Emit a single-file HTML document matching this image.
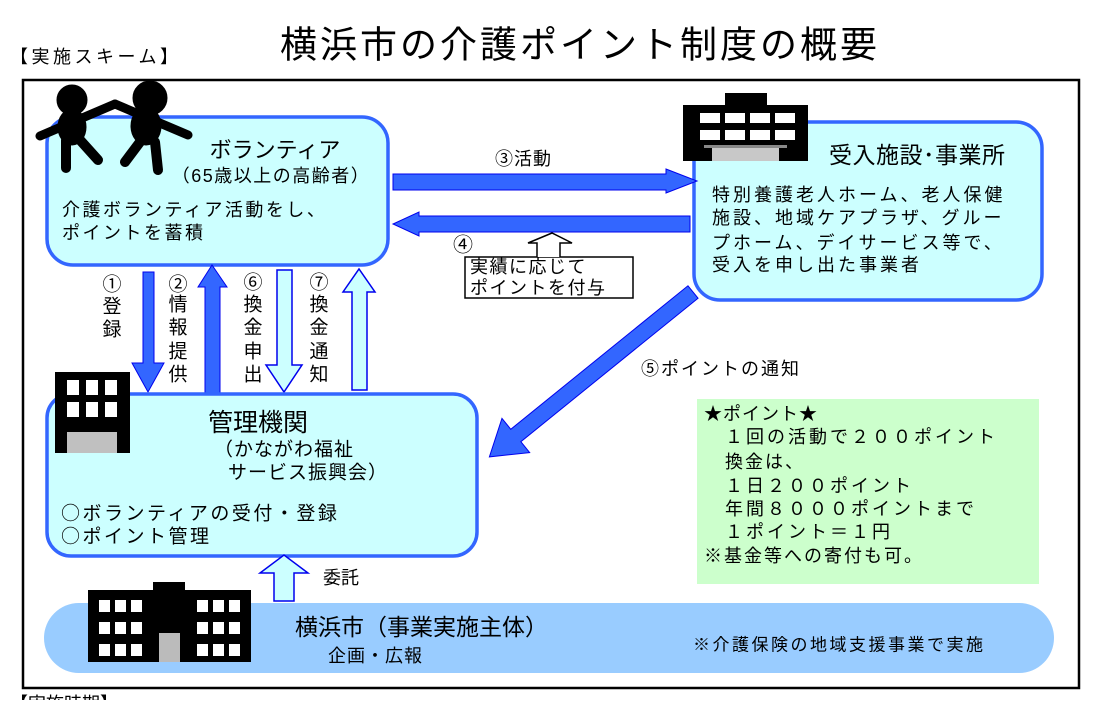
<!DOCTYPE html>
<html><head><meta charset="utf-8"><style>
html,body{margin:0;padding:0;background:#fff;}
svg text{font-family:"Liberation Sans","Noto Sans CJK JP",sans-serif;fill:#000;dominant-baseline:central;}
svg text.c{font-family:"Noto Sans CJK JP","Liberation Sans",sans-serif;}
</style></head><body>
<svg width="1095" height="700" viewBox="0 0 1095 700" xmlns="http://www.w3.org/2000/svg">
<text x="10" y="57" font-size="18" letter-spacing="3.5">【実施スキーム】</text>
<text x="580" y="45" font-size="37" text-anchor="middle" letter-spacing="3">横浜市の介護ポイント制度の概要</text>
<rect x="23" y="80" width="1056" height="608" fill="#fff" stroke="#000" stroke-width="2.5"/>
<text x="10" y="704" font-size="18">【実施時期】</text>

<!-- Volunteer box -->
<rect x="47" y="117" width="341" height="148" rx="26" fill="#ccffff" stroke="#3366ff" stroke-width="3.5"/>
<g fill="#000" stroke="#000" stroke-linecap="round">
<circle cx="72" cy="100" r="15"/>
<ellipse cx="72" cy="127" rx="14" ry="18"/>
<line x1="40" y1="136" x2="115" y2="104" stroke-width="9"/>
<line x1="66" y1="140" x2="66" y2="168" stroke-width="10"/>
<line x1="80" y1="140" x2="98" y2="160" stroke-width="10"/>
<circle cx="150" cy="98" r="17"/>
<ellipse cx="146" cy="126" rx="15" ry="19"/>
<line x1="115" y1="104" x2="188" y2="135" stroke-width="9"/>
<line x1="140" y1="142" x2="125" y2="162" stroke-width="10"/>
<line x1="155" y1="142" x2="158" y2="170" stroke-width="10"/>
</g>
<text x="275" y="150" font-size="22" text-anchor="middle">ボランティア</text>
<text x="271" y="176" font-size="18" text-anchor="middle" letter-spacing="1.5">（65歳以上の高齢者）</text>
<text x="62" y="210" font-size="18" letter-spacing="2.5">介護ボランティア活動をし、</text>
<text x="62" y="233" font-size="18" letter-spacing="2.5">ポイントを蓄積</text>

<!-- Facility box -->
<rect x="694" y="122" width="348" height="178" rx="26" fill="#ccffff" stroke="#3366ff" stroke-width="3.5"/>
<rect x="725" y="93" width="42" height="14" fill="#000"/>
<rect x="683" y="105" width="125" height="56" fill="#000"/>
<g fill="#fff">
<rect x="700" y="113" width="20" height="10"/><rect x="725" y="113" width="20" height="10"/><rect x="750" y="113" width="20" height="10"/><rect x="775" y="113" width="20" height="10"/>
<rect x="700" y="130" width="20" height="10"/><rect x="725" y="130" width="20" height="10"/><rect x="750" y="130" width="20" height="10"/><rect x="775" y="130" width="20" height="10"/>
</g>
<rect x="704" y="145" width="83" height="3" fill="#888"/>
<rect x="712" y="148" width="67" height="13" fill="#c8c8c8"/>
<text x="829" y="155" font-size="23" letter-spacing="0.5">受入施設･事業所</text>
<text x="712" y="195" font-size="18" letter-spacing="3">特別養護老人ホーム、老人保健</text>
<text x="712" y="218" font-size="18" letter-spacing="3">施設、地域ケアプラザ、グルー</text>
<text x="712" y="243" font-size="18" letter-spacing="3">プホーム、デイサービス等で、</text>
<text x="712" y="265" font-size="18" letter-spacing="3">受入を申し出た事業者</text>

<!-- Arrow 3 -->
<polygon points="393,174 666,174 666,169 697,181 666,193 666,190 393,190" fill="#3366ff" stroke="#0000ee" stroke-width="1"/>
<text class="c" x="495" y="158" font-size="18" letter-spacing="1">③活動</text>
<!-- Arrow 4 -->
<polygon points="690,216 419,216 419,212 393,224 419,236 419,232 690,232" fill="#3366ff" stroke="#0000ee" stroke-width="1"/>
<text class="c" x="463" y="243" font-size="20" text-anchor="middle">④</text>
<rect x="465" y="257" width="168" height="41" fill="#fff" stroke="#000" stroke-width="1.5"/>
<polyline points="537,257 537,243 528,243 552,233 572,243 560,243 560,257" fill="#fff" stroke="#000" stroke-width="1.5"/>
<text x="470" y="267" font-size="18" letter-spacing="1.5">実績に応じて</text>
<text x="470" y="288" font-size="18" letter-spacing="1.5">ポイントを付与</text>

<!-- Vertical arrows -->
<polygon points="143,272 154,272 154,363 164,363 148,392 132,363 143,363" fill="#3366ff" stroke="#0000ee" stroke-width="1"/>
<polygon points="205,393 220,393 220,287 227,287 212,265 198,287 205,287" fill="#3366ff" stroke="#0000ee" stroke-width="1"/>
<polygon points="277,270 292,270 292,365 302,365 284,392 266,365 277,365" fill="#ccffff" stroke="#0000ee" stroke-width="1.5"/>
<polygon points="352,390 367,390 367,292 375,292 359,269 343,292 352,292" fill="#ccffff" stroke="#0000ee" stroke-width="1.5"/>
<g font-size="19" text-anchor="middle">
<text class="c" x="112" y="283">①</text><text x="112" y="307">登</text><text x="112" y="330">録</text>
<text class="c" x="178" y="283">②</text><text x="178" y="305">情</text><text x="178" y="328">報</text><text x="178" y="352">提</text><text x="178" y="375">供</text>
<text class="c" x="253" y="281">⑥</text><text x="253" y="305">換</text><text x="253" y="328">金</text><text x="253" y="352">申</text><text x="253" y="375">出</text>
<text class="c" x="319" y="281">⑦</text><text x="319" y="305">換</text><text x="319" y="328">金</text><text x="319" y="352">通</text><text x="319" y="375">知</text>
</g>

<!-- Arrow 5 -->
<g transform="translate(693,292) rotate(141)">
<polygon points="0,-8 228,-8 228,-22 262,0 228,22 228,8 0,8" fill="#3366ff" stroke="#0000ee" stroke-width="1"/>
</g>
<text class="c" x="641" y="368" font-size="18" letter-spacing="2">⑤ポイントの通知</text>

<!-- Management box -->
<rect x="47" y="394" width="430" height="162" rx="24" fill="#ccffff" stroke="#3366ff" stroke-width="3.5"/>
<rect x="55" y="372" width="75" height="81" fill="#000"/>
<g fill="#fff">
<rect x="67" y="380" width="12" height="15"/><rect x="86" y="380" width="12" height="15"/><rect x="105" y="380" width="12" height="15"/>
<rect x="67" y="402" width="12" height="15"/><rect x="86" y="402" width="12" height="15"/><rect x="105" y="402" width="12" height="15"/>
</g>
<rect x="67" y="432" width="50" height="21" fill="#c0c0c0"/>
<text x="208" y="423" font-size="25">管理機関</text>
<text x="214" y="450" font-size="19" letter-spacing="1">（かながわ福祉</text>
<text x="228" y="473" font-size="19" letter-spacing="1">サービス振興会）</text>
<text class="c" x="61" y="512" font-size="19" letter-spacing="2.5">○ボランティアの受付・登録</text>
<text class="c" x="61" y="535" font-size="19" letter-spacing="2.5">○ポイント管理</text>

<!-- Green box -->
<rect x="697" y="399" width="342" height="185" fill="#ccffcc"/>
<g font-size="18">
<text x="704" y="414" letter-spacing="1">★ポイント★</text>
<text x="725" y="437" letter-spacing="3">１回の活動で２００ポイント</text>
<text x="725" y="462" letter-spacing="2">換金は、</text>
<text x="725" y="486" letter-spacing="3">１日２００ポイント</text>
<text x="725" y="509" letter-spacing="3">年間８０００ポイントまで</text>
<text x="725" y="532" letter-spacing="3">１ポイント＝１円</text>
<text x="704" y="556" letter-spacing="2">※基金等への寄付も可。</text>
</g>

<!-- Bottom band -->
<rect x="44" y="603" width="1010" height="70" rx="35" fill="#99ccff"/>
<polygon points="274,601 294,601 294,573 308,573 284,555 260,573 274,573" fill="#ccffff" stroke="#0000ee" stroke-width="1.5"/>
<text x="323" y="578" font-size="18">委託</text>
<rect x="153" y="582" width="32" height="10" fill="#000"/>
<rect x="88" y="590" width="163" height="72" fill="#000"/>
<g fill="#fff">
<rect x="99" y="600" width="11" height="12"/><rect x="115" y="600" width="11" height="12"/><rect x="131" y="600" width="11" height="12"/>
<rect x="99" y="622" width="11" height="12"/><rect x="115" y="622" width="11" height="12"/><rect x="131" y="622" width="11" height="12"/>
<rect x="99" y="644" width="11" height="12"/><rect x="115" y="644" width="11" height="12"/><rect x="131" y="644" width="11" height="12"/>
<rect x="197" y="600" width="11" height="12"/><rect x="213" y="600" width="11" height="12"/><rect x="229" y="600" width="11" height="12"/>
<rect x="197" y="622" width="11" height="12"/><rect x="213" y="622" width="11" height="12"/><rect x="229" y="622" width="11" height="12"/>
<rect x="197" y="644" width="11" height="12"/><rect x="213" y="644" width="11" height="12"/><rect x="229" y="644" width="11" height="12"/>
</g>
<rect x="159" y="633" width="21" height="29" fill="#bbbbbb"/>
<text x="295" y="627" font-size="23">横浜市（事業実施主体）</text>
<text x="328" y="656" font-size="18" letter-spacing="1">企画・広報</text>
<text x="693" y="645" font-size="17" letter-spacing="2.5">※介護保険の地域支援事業で実施</text>
</svg>
</body></html>
